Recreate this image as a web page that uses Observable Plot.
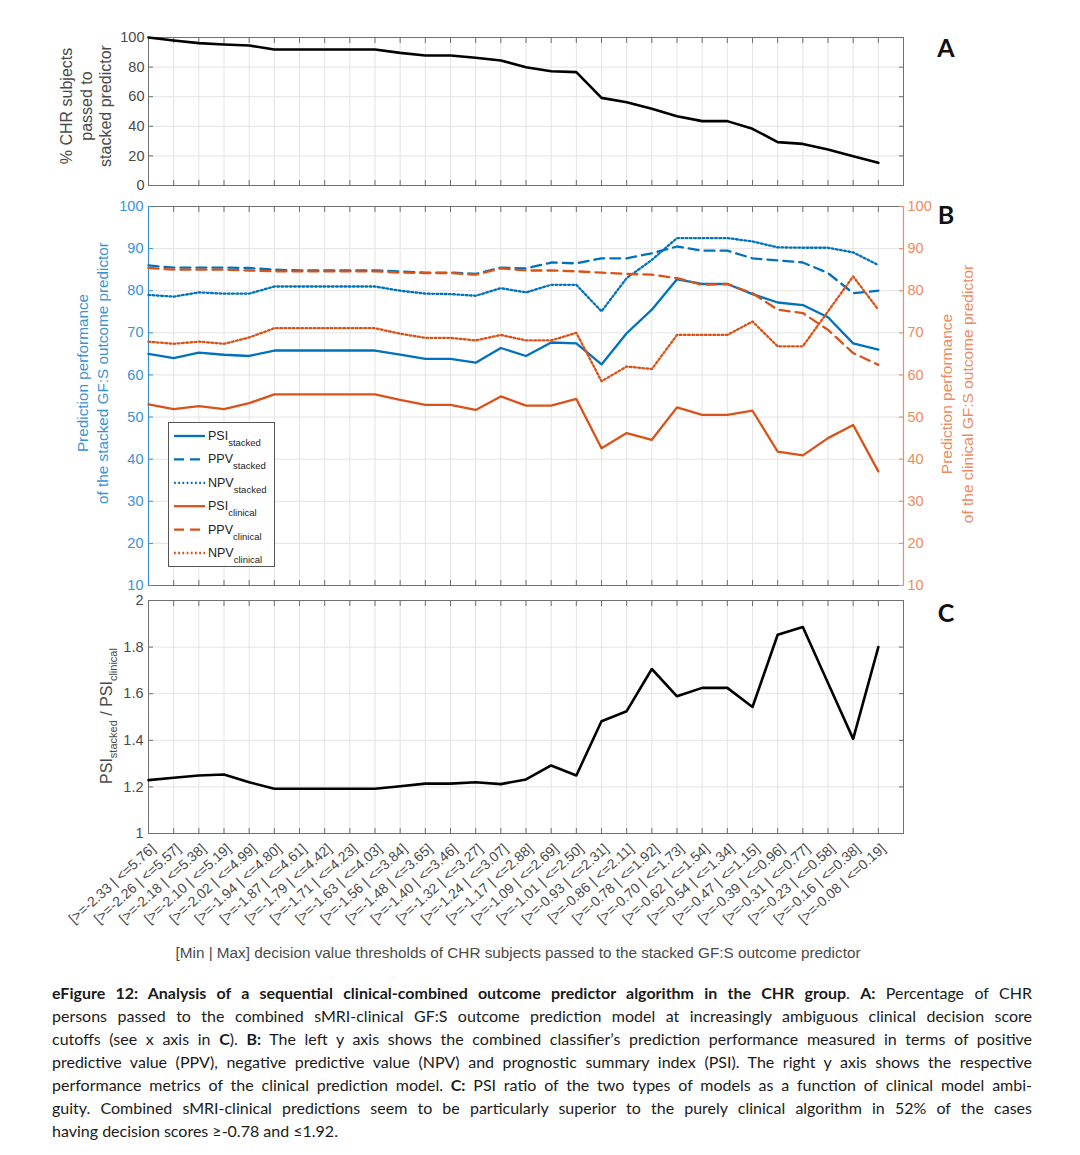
<!DOCTYPE html>
<html>
<head>
<meta charset="utf-8">
<script src="https://cdn.jsdelivr.net/npm/d3@7"></script>
<script src="https://cdn.jsdelivr.net/npm/@observablehq/plot@0.6"></script>
<style>
  html, body { margin: 0; padding: 0; background: #fff; }
  #wrap { position: relative; width: 1080px; height: 1155px; overflow: hidden; font-family: "Liberation Sans", Arial, sans-serif; }
  .panel { position: absolute; left: 0; }
  #overlay { position: absolute; left: 0; top: 0; }
  #caption { position: absolute; left: 52px; top: 981px; width: 980px; font-family: Lato, "Open Sans", sans-serif; font-size: 16px; line-height: 23px; color: #1a1a1a; }
  #caption div { text-align: justify; text-align-last: justify; }
  #caption div.last { text-align-last: left; }
</style>
</head>
<body>
<div id="wrap">
  <div id="pA" class="panel" style="top:0px"></div>
  <div id="pB" class="panel" style="top:190px"></div>
  <div id="pC" class="panel" style="top:590px"></div>
  <svg id="overlay" width="1080" height="980"></svg>
  <div id="caption">
    <div><b>eFigure 12: Analysis of a sequential clinical-combined outcome predictor algorithm in the CHR group</b>. <b>A:</b> Percentage of CHR</div>
    <div>persons passed to the combined sMRI-clinical GF:S outcome prediction model at increasingly ambiguous clinical decision score</div>
    <div>cutoffs (see x axis in <b>C</b>). <b>B:</b> The left y axis shows the combined classifier’s prediction performance measured in terms of positive</div>
    <div>predictive value (PPV), negative predictive value (NPV) and prognostic summary index (PSI). The right y axis shows the respective</div>
    <div>performance metrics of the clinical prediction model. <b>C:</b> PSI ratio of the two types of models as a function of clinical model ambi-</div>
    <div>guity. Combined sMRI-clinical predictions seem to be particularly superior to the purely clinical algorithm in 52% of the cases</div>
    <div class="last">having decision scores ≥-0.78 and ≤1.92.</div>
  </div>
</div>
<script>
// ---------------- data ----------------
const minThreshold = ["-2.33","-2.26","-2.18","-2.10","-2.02","-1.94","-1.87","-1.79","-1.71","-1.63",
  "-1.56","-1.48","-1.40","-1.32","-1.24","-1.17","-1.09","-1.01","-0.93","-0.86",
  "-0.78","-0.70","-0.62","-0.54","-0.47","-0.39","-0.31","-0.23","-0.16","-0.08"];
const maxThreshold = ["5.76","5.57","5.38","5.19","4.99","4.80","4.61","4.42","4.23","4.03",
  "3.84","3.65","3.46","3.27","3.07","2.88","2.69","2.50","2.31","2.11",
  "1.92","1.73","1.54","1.34","1.15","0.96","0.77","0.58","0.38","0.19"];

const pctPassed = [100, 98, 96.2, 95.3, 94.6, 91.9, 91.9, 91.9, 91.9, 91.9,
  89.6, 87.8, 87.8, 86.3, 84.5, 79.9, 77.2, 76.6, 59.2, 56.3,
  51.8, 46.8, 43.5, 43.5, 38.3, 29.3, 28.1, 24.3, 19.8, 15.3];

const psiStacked = [65.0, 64.0, 65.3, 64.8, 64.5, 65.8, 65.8, 65.8, 65.8, 65.8,
  64.8, 63.8, 63.8, 62.9, 66.4, 64.5, 67.7, 67.5, 62.5, 69.9,
  75.5, 82.7, 81.6, 81.6, 79.2, 77.2, 76.6, 73.7, 67.5, 66.0];
const ppvStacked = [86.0, 85.5, 85.5, 85.5, 85.4, 85.0, 84.8, 84.8, 84.8, 84.8,
  84.6, 84.3, 84.3, 84.0, 85.5, 85.3, 86.7, 86.5, 87.7, 87.7,
  88.9, 90.5, 89.5, 89.5, 87.7, 87.2, 86.7, 84.2, 79.4, 80.0];
const npvStacked = [79.0, 78.6, 79.6, 79.3, 79.3, 81.0, 81.0, 81.0, 81.0, 81.0,
  80.0, 79.3, 79.2, 78.8, 80.6, 79.6, 81.4, 81.4, 75.1, 83.0,
  87.3, 92.5, 92.5, 92.5, 91.7, 90.3, 90.2, 90.2, 89.1, 86.1];
const psiClinical = [53.0, 51.9, 52.6, 51.9, 53.3, 55.4, 55.4, 55.4, 55.4, 55.4,
  54.1, 52.9, 52.9, 51.7, 54.9, 52.7, 52.7, 54.3, 42.6, 46.2,
  44.6, 52.3, 50.5, 50.5, 51.5, 41.8, 40.9, 45.0, 48.1, 37.1];
const ppvClinical = [85.4, 85.0, 85.0, 85.0, 84.8, 84.6, 84.6, 84.6, 84.6, 84.6,
  84.3, 84.2, 84.2, 83.8, 85.3, 84.8, 84.8, 84.6, 84.3, 84.0,
  83.8, 83.0, 81.4, 81.6, 79.4, 75.5, 74.7, 70.7, 65.2, 62.4];
const npvClinical = [67.9, 67.4, 67.9, 67.4, 68.9, 71.1, 71.1, 71.1, 71.1, 71.1,
  69.8, 68.8, 68.8, 68.2, 69.5, 68.2, 68.2, 70.0, 58.5, 62.0,
  61.4, 69.5, 69.5, 69.5, 72.7, 66.8, 66.8, 75.1, 83.4, 75.5];

const psiRatio = [1.229, 1.239, 1.249, 1.253, 1.220, 1.192, 1.192, 1.192, 1.192, 1.192,
  1.203, 1.214, 1.214, 1.220, 1.212, 1.232, 1.292, 1.249, 1.482, 1.525,
  1.706, 1.589, 1.625, 1.625, 1.543, 1.853, 1.886, 1.646, 1.406, 1.800];

const yTicksA = [0, 20, 40, 60, 80, 100];
const yTicksB = [10, 20, 30, 40, 50, 60, 70, 80, 90, 100];
const yTicksC = [1, 1.2, 1.4, 1.6, 1.8, 2];

const xLabels = minThreshold.map((m, i) => `[>=${m} | <=${maxThreshold[i]}]`);

// ---------------- styling ----------------
const idx = d3.range(minThreshold.length);
const FONT = '"Liberation Sans", Arial, sans-serif';
const GRID = "#e4e4e4", AX = "#707070", TXT = "#4a4a4a";
const BLUE = "#0072BD", ORANGE = "#D95319", BLUE_T = "#3a92d0", ORANGE_T = "#ee8a5e";
const DASH = "10,6", DOT = "1.8,2.4";
const TICKFS = 14.5;

function base(h, mt, mb) {
  return {
    width: 1080, height: h, marginLeft: 148, marginRight: 177, marginTop: mt, marginBottom: mb,
    style: { fontFamily: FONT, fontSize: TICKFS + "px", color: TXT, background: "transparent", overflow: "visible" },
    x: { domain: [0, 30] }
  };
}
function boxMarks(yt, leftColor, rightColor) {
  return [
    Plot.gridX(idx, { stroke: GRID, strokeOpacity: 1 }),
    Plot.gridY(yt, { stroke: GRID, strokeOpacity: 1 }),
    Plot.frame({ stroke: AX }),
    Plot.axisX(idx, { anchor: "bottom", tickSize: -5, fill: "none", stroke: AX, label: null }),
    Plot.axisX(idx, { anchor: "top", tickSize: -5, fill: "none", stroke: AX, label: null }),
    Plot.axisY(yt, { anchor: "left", tickSize: -5, fill: "none", stroke: leftColor, label: null }),
    Plot.axisY(yt, { anchor: "right", tickSize: -5, fill: "none", stroke: rightColor, label: null })
  ];
}
const X = (d, i) => i;
const Y = d => d;

// ---------------- panel A ----------------
const plotA = Plot.plot({
  ...base(200, 37, 15),
  y: { domain: [0, 100] },
  marks: [
    ...boxMarks(yTicksA, AX, AX),
    Plot.axisY(yTicksA, { anchor: "left", tickSize: 0, tickPadding: 4, label: null, fill: TXT, fontSize: TICKFS }),
    Plot.line(pctPassed, { x: X, y: Y, stroke: "#000", strokeWidth: 2.6 })
  ]
});
document.getElementById("pA").appendChild(plotA);

// ---------------- panel B ----------------
const plotB = Plot.plot({
  ...base(400, 16, 5),
  y: { domain: [10, 100] },
  marks: [
    ...boxMarks(yTicksB, BLUE_T, ORANGE_T),
    Plot.ruleX([0], { stroke: BLUE_T, strokeWidth: 1.2 }),
    Plot.ruleX([30], { stroke: ORANGE_T, strokeWidth: 1.2 }),
    Plot.axisY(yTicksB, { anchor: "left", tickSize: 0, tickPadding: 5, label: null, fill: BLUE_T, fontSize: TICKFS }),
    Plot.axisY(yTicksB, { anchor: "right", tickSize: 0, tickPadding: 4, label: null, fill: ORANGE_T, fontSize: TICKFS }),
    Plot.line(psiStacked, { x: X, y: Y, stroke: BLUE, strokeWidth: 2.3 }),
    Plot.line(ppvStacked, { x: X, y: Y, stroke: BLUE, strokeWidth: 2.3, strokeDasharray: DASH }),
    Plot.line(npvStacked, { x: X, y: Y, stroke: BLUE, strokeWidth: 2.3, strokeDasharray: DOT }),
    Plot.line(psiClinical, { x: X, y: Y, stroke: ORANGE, strokeWidth: 2.3 }),
    Plot.line(ppvClinical, { x: X, y: Y, stroke: ORANGE, strokeWidth: 2.3, strokeDasharray: DASH }),
    Plot.line(npvClinical, { x: X, y: Y, stroke: ORANGE, strokeWidth: 2.3, strokeDasharray: DOT })
  ]
});
document.getElementById("pB").appendChild(plotB);

// ---------------- panel C ----------------
const plotC = Plot.plot({
  ...base(375, 10, 132),
  y: { domain: [1, 2] },
  marks: [
    ...boxMarks(yTicksC, AX, AX),
    Plot.axisY(yTicksC, { anchor: "left", tickSize: 0, tickPadding: 5, label: null, fill: TXT, fontSize: TICKFS, tickFormat: d => String(d) }),
    Plot.axisX(idx, { anchor: "bottom", tickSize: 0, tickPadding: 13, tickRotate: -42, label: null, fill: TXT,
      fontSize: 14, tickFormat: i => xLabels[i], dx: 5 }),
    Plot.line(psiRatio, { x: X, y: Y, stroke: "#000", strokeWidth: 2.6 })
  ]
});
document.getElementById("pC").appendChild(plotC);

// ---------------- overlay text: labels, panel letters, legend ----------------
const ov = d3.select("#overlay").style("font-family", FONT);

function vlabel(x, y, lines, color, size, gap) {
  const g = ov.append("g").attr("transform", `translate(${x},${y}) rotate(-90)`);
  lines.forEach((t, k) => {
    g.append("text").attr("x", 0).attr("y", k * gap).attr("text-anchor", "middle")
      .attr("fill", color).attr("font-size", size).text(t);
  });
}
vlabel(72, 106, ["% CHR subjects", "passed to", "stacked predictor"], TXT, 16, 19.5);
vlabel(88, 373, ["Prediction performance", "of the stacked GF:S outcome predictor"], BLUE_T, 15.3, 20);
vlabel(952, 394, ["Prediction performance", "of the clinical GF:S outcome predictor"], ORANGE_T, 15.5, 21);

// panel C label with subscripts
{
  const g = ov.append("g").attr("transform", `translate(112,716) rotate(-90)`);
  const t = g.append("text").attr("text-anchor", "middle").attr("fill", TXT).attr("font-size", 16);
  t.append("tspan").text("PSI");
  t.append("tspan").attr("font-size", 11).attr("dy", 5).text("stacked");
  t.append("tspan").attr("dy", -5).text(" / PSI");
  t.append("tspan").attr("font-size", 11).attr("dy", 5).text("clinical");
}

// x axis title
ov.append("text").attr("x", 518).attr("y", 958).attr("text-anchor", "middle")
  .attr("fill", TXT).attr("font-size", 15.3)
  .text("[Min | Max] decision value thresholds of CHR subjects passed to the stacked GF:S outcome predictor");

// panel letters
[["A", 56.5], ["B", 223.5], ["C", 622]].forEach(([l, y]) => {
  ov.append("text").attr("x", 946).attr("y", y).attr("text-anchor", "middle")
    .attr("font-family", "Lato, 'Liberation Sans', sans-serif").attr("font-weight", "bold")
    .attr("font-size", 25).attr("fill", "#111").text(l);
});

// legend
const legendItems = [
  { name: "PSI", sub: "stacked", color: BLUE, dash: null },
  { name: "PPV", sub: "stacked", color: BLUE, dash: DASH },
  { name: "NPV", sub: "stacked", color: BLUE, dash: DOT },
  { name: "PSI", sub: "clinical", color: ORANGE, dash: null },
  { name: "PPV", sub: "clinical", color: ORANGE, dash: DASH },
  { name: "NPV", sub: "clinical", color: ORANGE, dash: DOT }
];
ov.append("rect").attr("x", 168.5).attr("y", 422.5).attr("width", 106).attr("height", 144)
  .attr("fill", "#fff").attr("stroke", "#555").attr("stroke-width", 1);
legendItems.forEach((d, k) => {
  const y = 436 + k * 23.4;
  ov.append("line").attr("x1", 174).attr("x2", 205).attr("y1", y).attr("y2", y)
    .attr("stroke", d.color).attr("stroke-width", 2.3).attr("stroke-dasharray", d.dash);
  const t = ov.append("text").attr("x", 208).attr("y", y + 4).attr("fill", "#222").attr("font-size", 12.5);
  t.append("tspan").text(d.name);
  t.append("tspan").attr("font-size", 9.5).attr("dy", 6).text(d.sub);
});
</script>
</body>
</html>
